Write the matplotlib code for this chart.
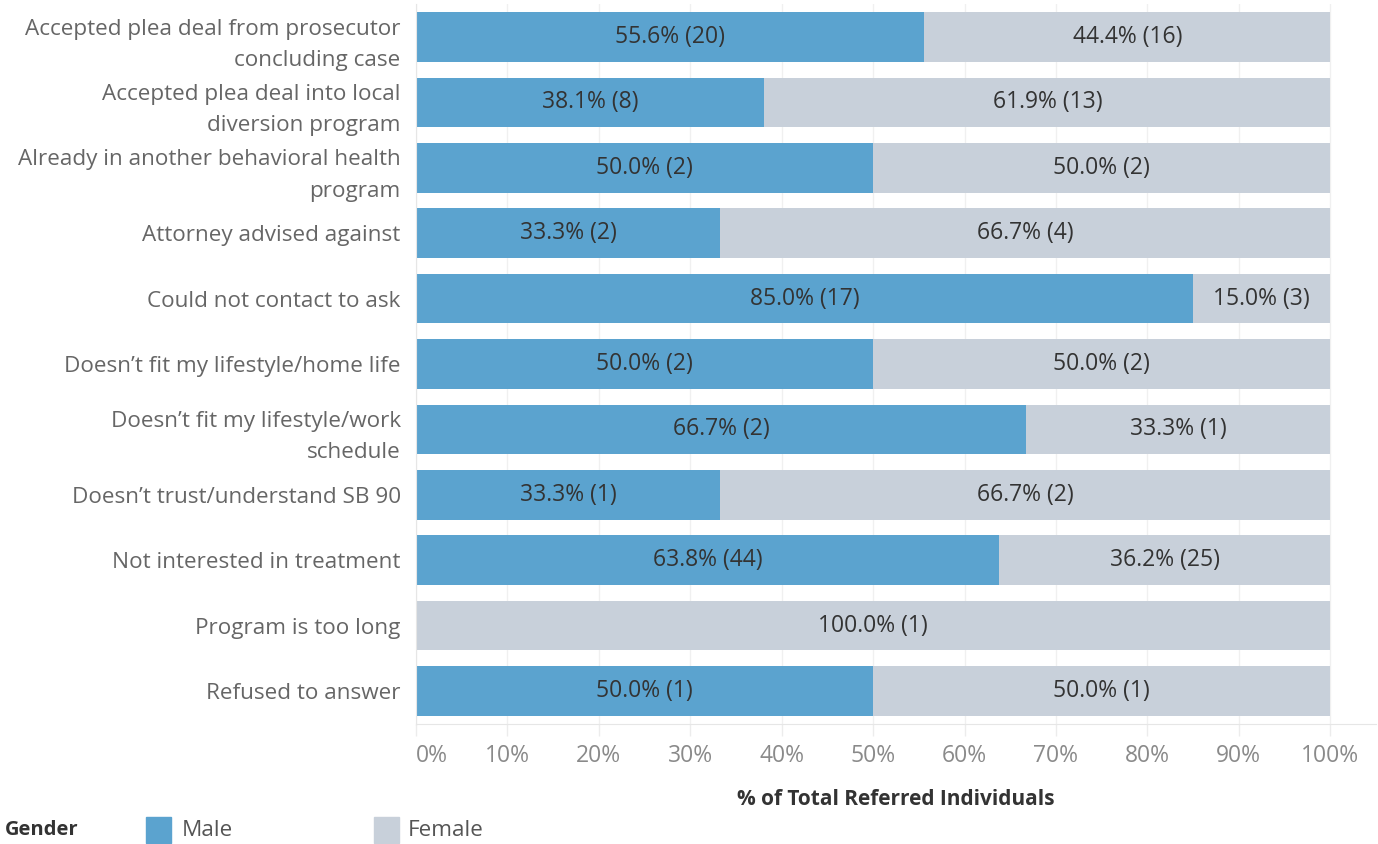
import matplotlib
matplotlib.use("Agg")
import matplotlib.pyplot as plt
from matplotlib.patches import Rectangle

categories = [
    "Accepted plea deal from prosecutor\nconcluding case",
    "Accepted plea deal into local\ndiversion program",
    "Already in another behavioral health\nprogram",
    "Attorney advised against",
    "Could not contact to ask",
    "Doesn\u2019t fit my lifestyle/home life",
    "Doesn\u2019t fit my lifestyle/work\nschedule",
    "Doesn\u2019t trust/understand SB 90",
    "Not interested in treatment",
    "Program is too long",
    "Refused to answer",
]
male_pct = [55.6, 38.1, 50.0, 33.3, 85.0, 50.0, 66.7, 33.3, 63.8, 0.0, 50.0]
male_n = [20, 8, 2, 2, 17, 2, 2, 1, 44, 0, 1]
female_pct = [44.4, 61.9, 50.0, 66.7, 15.0, 50.0, 33.3, 66.7, 36.2, 100.0, 50.0]
female_n = [16, 13, 2, 4, 3, 2, 1, 2, 25, 1, 1]
xticks = [0, 10, 20, 30, 40, 50, 60, 70, 80, 90, 100]
xtick_labels = ["0%", "10%", "20%", "30%", "40%", "50%", "60%", "70%", "80%", "90%", "100%"]

MALE = "#5ba3cf"
FEMALE = "#c8d0da"
FONT = "Open Sans"
LABEL_C = "#666666"
FS = 16.2
FS_NUM = 16.5

plt.rcParams["font.family"] = [FONT, "DejaVu Sans"]

W, H = 1378, 844
fig = plt.figure(figsize=(W / 100, H / 100), dpi=100)
ax = fig.add_axes([416 / W, 1 - 723.7 / H, 960 / W, 719.4 / H])

y = list(range(len(categories)))
ax.barh(y, male_pct, height=0.76, color=MALE, zorder=2)
ax.barh(y, female_pct, left=male_pct, height=0.76, color=FEMALE, zorder=2)

for i in y:
    if male_pct[i] > 0:
        ax.text(male_pct[i] / 2, i, f"{male_pct[i]:.1f}% ({male_n[i]})",
                ha="center", va="center", fontsize=FS_NUM, color="#333333", zorder=3)
    if female_pct[i] > 0:
        ax.text(male_pct[i] + female_pct[i] / 2, i, f"{female_pct[i]:.1f}% ({female_n[i]})",
                ha="center", va="center", fontsize=FS_NUM, color="#333333", zorder=3)

ax.set_xlim(0, 105)
ax.set_ylim(10.5, -0.5)
ax.set_yticks(y)
ax.set_yticklabels(categories, fontsize=FS, color=LABEL_C, linespacing=1.65)
ax.tick_params(axis="y", length=0, pad=11)
ax.set_xticks(xticks)
ax.set_xticklabels(xtick_labels, fontsize=FS_NUM, color="#8a8a8a")
ax.tick_params(axis="x", length=8.6, color="#ececec", width=1, pad=6)
labs = ax.get_xticklabels()
labs[0].set_ha("left")
ax.grid(axis="x", color="#f0f0f0", linewidth=1, zorder=0)
for s in ["top", "right"]:
    ax.spines[s].set_visible(False)
ax.spines["left"].set_color("#e6e6e6")
ax.spines["bottom"].set_color("#e6e6e6")

ax.set_xlabel("% of Total Referred Individuals", fontsize=15, fontweight="bold",
              color="#333333", labelpad=15)

# legend
fig.text(5 / W, 1 - 830 / H, "Gender", fontsize=14.5, fontweight="bold", color="#333333",
         ha="left", va="center")
fig.patches.append(Rectangle((146 / W, 1 - 843 / H), 25 / W, 26 / H, transform=fig.transFigure,
                             color=MALE))
fig.text(182 / W, 1 - 830 / H, "Male", fontsize=FS, color="#555555", ha="left", va="center")
fig.patches.append(Rectangle((374 / W, 1 - 843 / H), 25 / W, 26 / H, transform=fig.transFigure,
                             color=FEMALE))
fig.text(408 / W, 1 - 830 / H, "Female", fontsize=FS, color="#555555", ha="left", va="center")

fig.savefig("out.png", dpi=100)
